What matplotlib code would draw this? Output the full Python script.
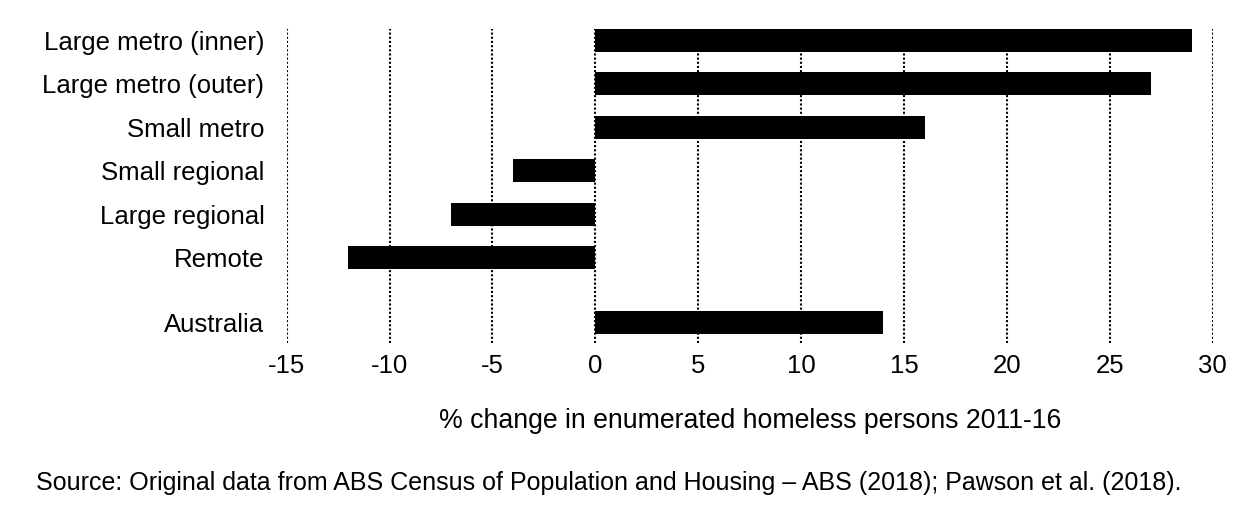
import matplotlib.pyplot as plt

plt.rcParams['font.family'] = ['Liberation Sans', 'DejaVu Sans']

# data
categories = ['Large metro (inner)', 'Large metro (outer)', 'Small metro',
              'Small regional', 'Large regional', 'Remote', 'Australia']
pct_change = [29, 27, 16, -4, -7, -12, 14]
row_pos = [0, 1, 2, 3, 4, 5, 6.5]  # gap before Australia
xticks = [-15, -10, -5, 0, 5, 10, 15, 20, 25, 30]

fig = plt.figure(figsize=(12.6, 5.2), dpi=100)
ax = fig.add_axes([0.2275, 0.3404, 0.735, 0.6038])

ax.barh(row_pos, pct_change, height=0.53, color='black', zorder=2)

ax.set_xlim(-15, 30)
ax.set_ylim(6.97, -0.265)
ax.set_xticks(xticks)
ax.set_xticklabels([str(t) for t in xticks], fontsize=18.5)
ax.set_yticks(row_pos)
ax.set_yticklabels(categories, fontsize=18.5)
ax.tick_params(axis='y', length=0, pad=16)
ax.tick_params(axis='x', length=0, pad=8)

for t in xticks:
    ax.axvline(t, color='black', lw=1.5, linestyle=(0, (1, 1)), zorder=1)

for s in ax.spines.values():
    s.set_visible(False)

ax.set_xlabel('% change in enumerated homeless persons 2011-16', fontsize=19.2, labelpad=21.5)

fig.text(0.0286, 0.071, 'Source: Original data from ABS Census of Population and Housing \u2013 ABS (2018); Pawson et al. (2018).',
         fontsize=18, ha='left', va='center')

fig.savefig('out.png', dpi=100)
